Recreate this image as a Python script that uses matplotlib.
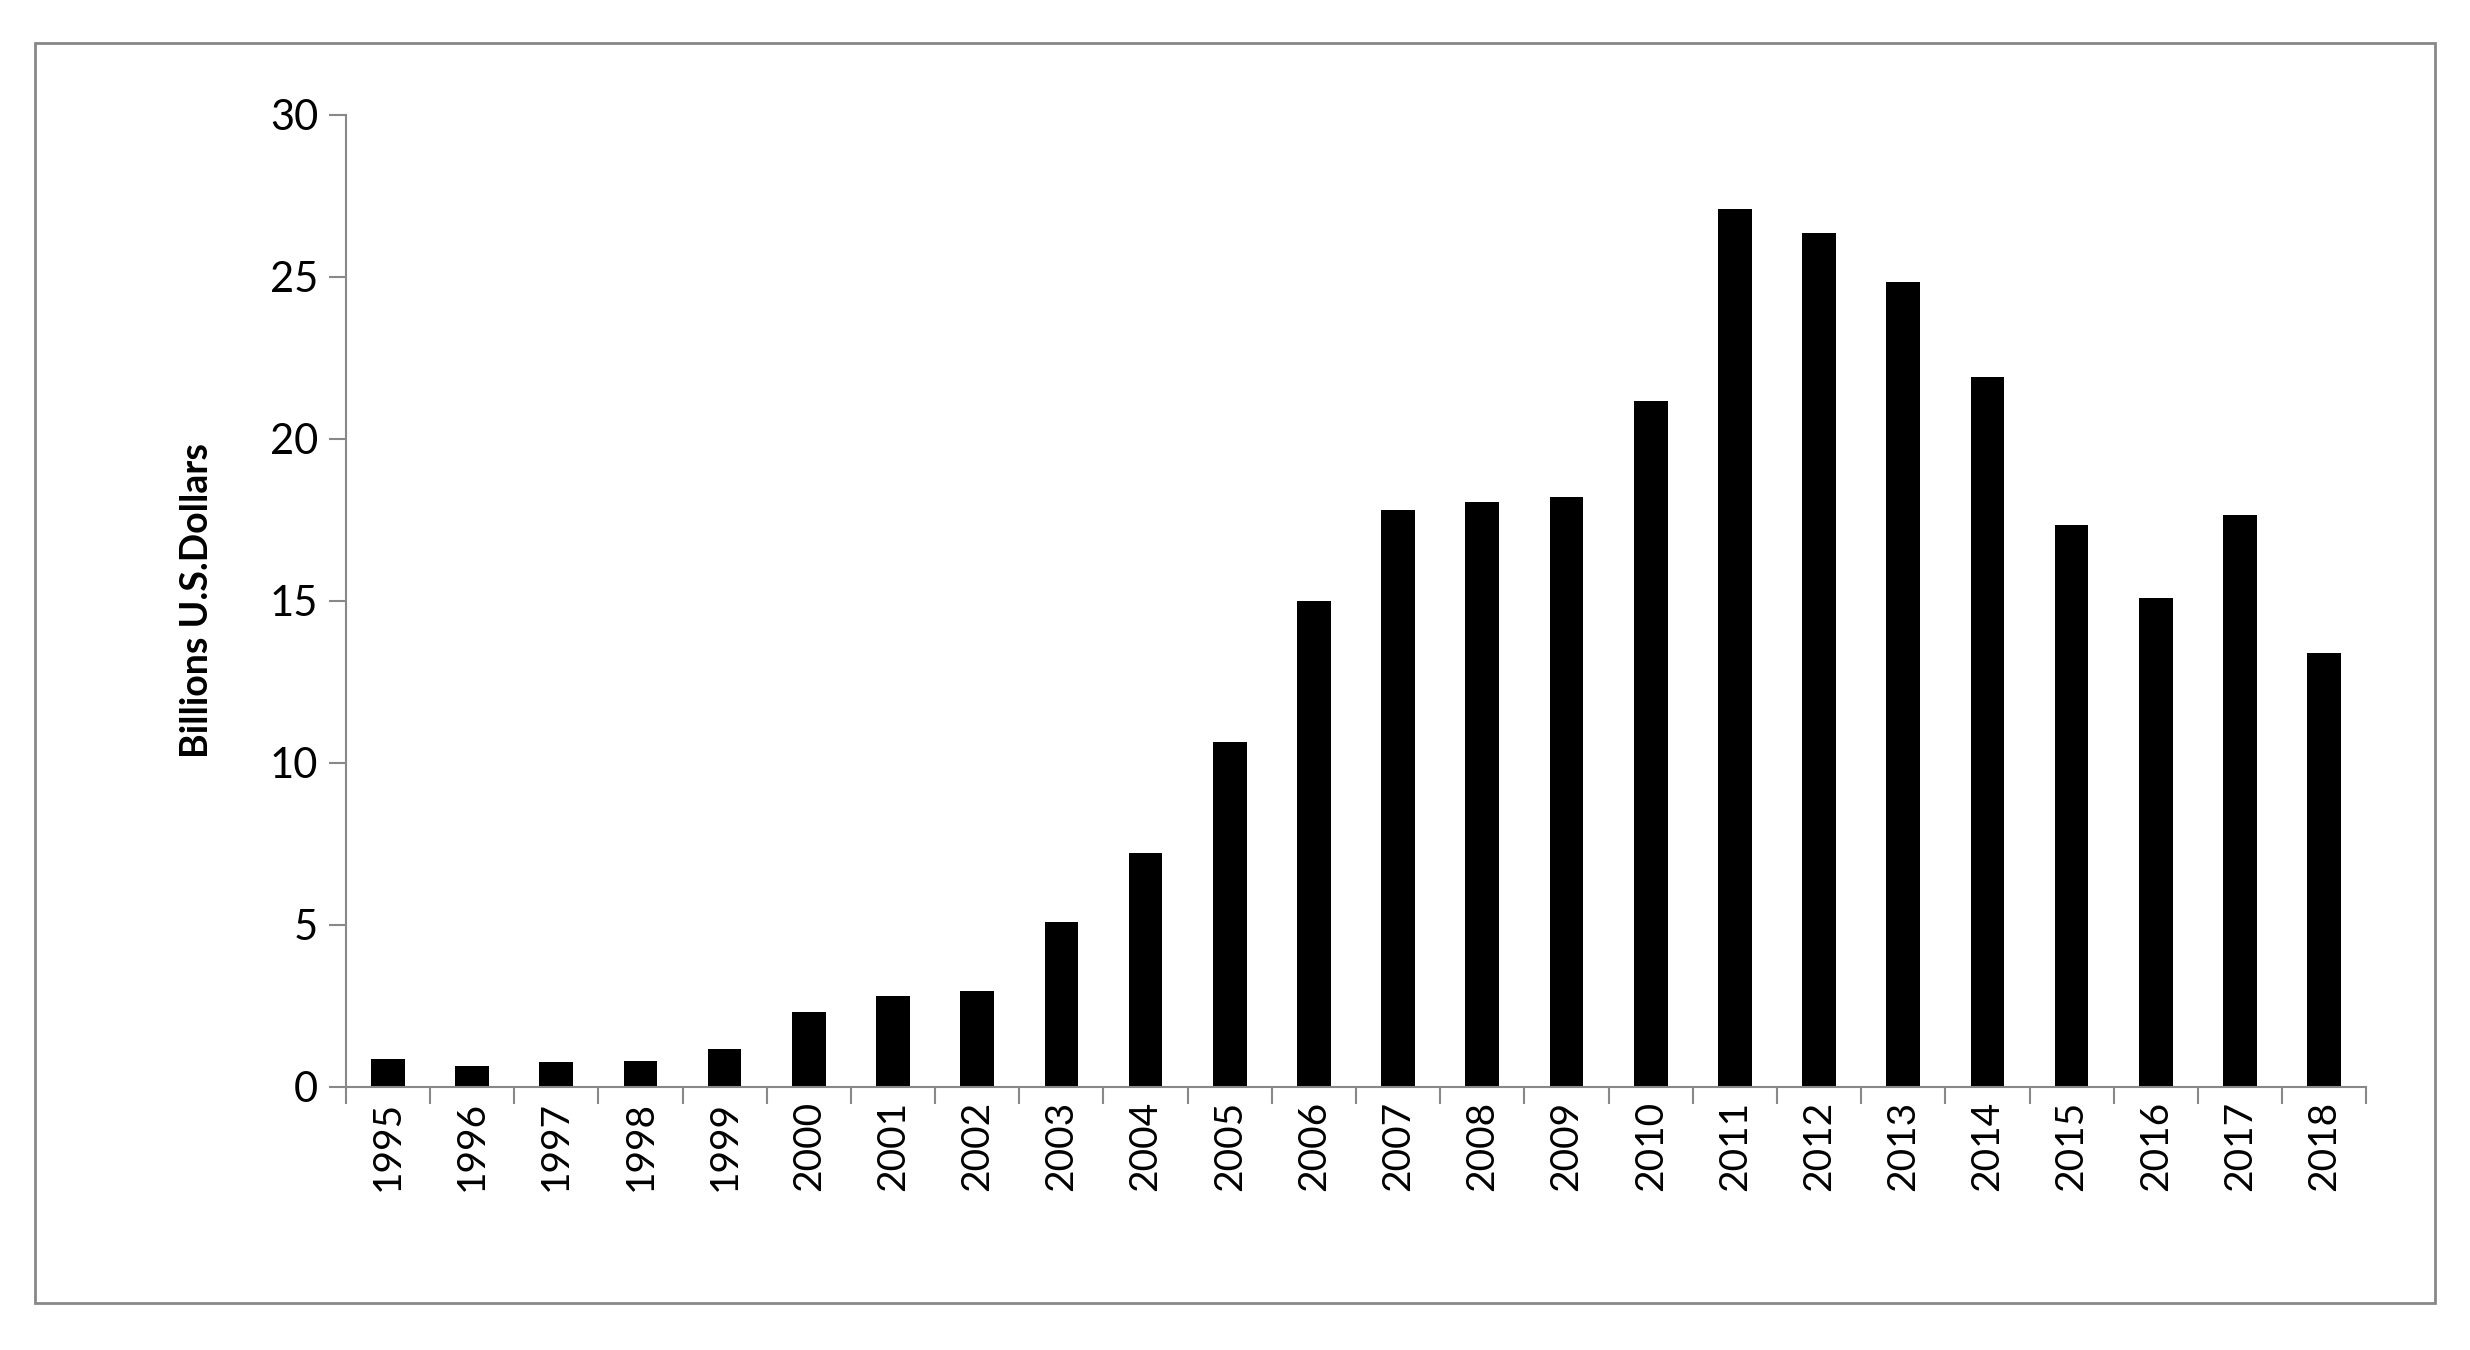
import matplotlib
matplotlib.use('Agg')
import matplotlib.pyplot as plt
from matplotlib.patches import Rectangle
import numpy as np

years = [str(y) for y in range(1995, 2019)]
values = [0.85, 0.65, 0.75, 0.8, 1.15, 2.3, 2.8, 2.95, 5.1, 7.2, 10.65, 15.0,
          17.8, 18.05, 18.2, 21.15, 27.1, 26.35, 24.85, 21.9, 17.35, 15.1, 17.65, 13.4]

plt.rcParams['font.family'] = ['Lato', 'DejaVu Sans']

fig = plt.figure(figsize=(24.7, 13.5), dpi=100)
ax = fig.add_axes([0.140, 0.195, 0.818, 0.72])

x = np.arange(len(years))
ax.bar(x, values, width=0.4, color='black')

ax.set_xlim(-0.5, len(years) - 0.5)
ax.set_ylim(0, 30)
ax.set_yticks(range(0, 31, 5))
ax.set_xticks(x)
ax.set_xticklabels(years, rotation=90, fontsize=28)
ax.set_xticks(np.arange(-0.5, len(years)), minor=True)
ax.tick_params(axis='x', which='major', length=0, pad=10)
ax.tick_params(axis='x', which='minor', length=12, color='#888888', width=1.5)
ax.tick_params(axis='y', labelsize=30, length=12, color='#888888', width=1.5, pad=8)
ax.set_ylabel('Billions U.S.Dollars', fontsize=27, fontweight='bold', labelpad=40)

for s in ['top', 'right']:
    ax.spines[s].set_visible(False)
for s in ['left', 'bottom']:
    ax.spines[s].set_color('#888888')
    ax.spines[s].set_linewidth(1.5)

fig.patches.append(Rectangle((0.014, 0.035), 0.972, 0.933, transform=fig.transFigure,
                             fill=False, edgecolor='#888888', linewidth=2))

fig.savefig('out.png', dpi=100, facecolor='white')
